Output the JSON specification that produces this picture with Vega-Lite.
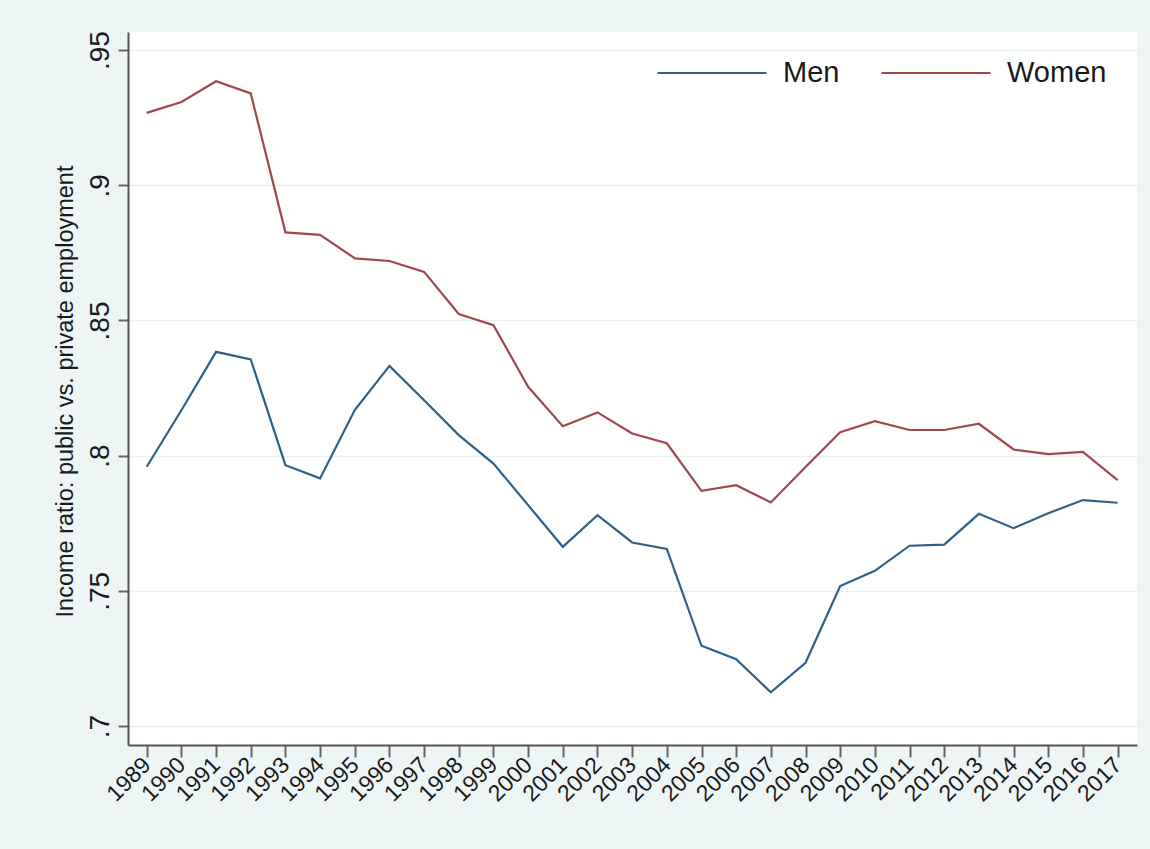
{
  "$schema": "https://vega.github.io/schema/vega-lite/v6.json",
  "width": 1009,
  "height": 713,
  "autosize": {"type": "none"},
  "padding": {"left": 128, "top": 32, "right": 13, "bottom": 104},
  "background": "#EEF5F5",
  "config": {
    "view": {"fill": "white", "stroke": null},
    "font": "Liberation Sans"
  },
  "data": {
    "values": [
      {"year": 1989, "sex": "Men", "ratio": 0.7959},
      {"year": 1990, "sex": "Men", "ratio": 0.8168},
      {"year": 1991, "sex": "Men", "ratio": 0.8384},
      {"year": 1992, "sex": "Men", "ratio": 0.8356},
      {"year": 1993, "sex": "Men", "ratio": 0.7965},
      {"year": 1994, "sex": "Men", "ratio": 0.7916},
      {"year": 1995, "sex": "Men", "ratio": 0.8169},
      {"year": 1996, "sex": "Men", "ratio": 0.8332},
      {"year": 1997, "sex": "Men", "ratio": 0.8205},
      {"year": 1998, "sex": "Men", "ratio": 0.8076},
      {"year": 1999, "sex": "Men", "ratio": 0.7971},
      {"year": 2000, "sex": "Men", "ratio": 0.7817},
      {"year": 2001, "sex": "Men", "ratio": 0.7663},
      {"year": 2002, "sex": "Men", "ratio": 0.7780},
      {"year": 2003, "sex": "Men", "ratio": 0.7679},
      {"year": 2004, "sex": "Men", "ratio": 0.7655},
      {"year": 2005, "sex": "Men", "ratio": 0.7297},
      {"year": 2006, "sex": "Men", "ratio": 0.7247},
      {"year": 2007, "sex": "Men", "ratio": 0.7125},
      {"year": 2008, "sex": "Men", "ratio": 0.7234},
      {"year": 2009, "sex": "Men", "ratio": 0.7518},
      {"year": 2010, "sex": "Men", "ratio": 0.7574},
      {"year": 2011, "sex": "Men", "ratio": 0.7667},
      {"year": 2012, "sex": "Men", "ratio": 0.7671},
      {"year": 2013, "sex": "Men", "ratio": 0.7785},
      {"year": 2014, "sex": "Men", "ratio": 0.7732},
      {"year": 2015, "sex": "Men", "ratio": 0.7787},
      {"year": 2016, "sex": "Men", "ratio": 0.7836},
      {"year": 2017, "sex": "Men", "ratio": 0.7826},
      {"year": 1989, "sex": "Women", "ratio": 0.9268},
      {"year": 1990, "sex": "Women", "ratio": 0.9308},
      {"year": 1991, "sex": "Women", "ratio": 0.9385},
      {"year": 1992, "sex": "Women", "ratio": 0.9340},
      {"year": 1993, "sex": "Women", "ratio": 0.8826},
      {"year": 1994, "sex": "Women", "ratio": 0.8817},
      {"year": 1995, "sex": "Women", "ratio": 0.8730},
      {"year": 1996, "sex": "Women", "ratio": 0.8720},
      {"year": 1997, "sex": "Women", "ratio": 0.8680},
      {"year": 1998, "sex": "Women", "ratio": 0.8524},
      {"year": 1999, "sex": "Women", "ratio": 0.8483},
      {"year": 2000, "sex": "Women", "ratio": 0.8255},
      {"year": 2001, "sex": "Women", "ratio": 0.8109},
      {"year": 2002, "sex": "Women", "ratio": 0.8160},
      {"year": 2003, "sex": "Women", "ratio": 0.8082},
      {"year": 2004, "sex": "Women", "ratio": 0.8046},
      {"year": 2005, "sex": "Women", "ratio": 0.7870},
      {"year": 2006, "sex": "Women", "ratio": 0.7891},
      {"year": 2007, "sex": "Women", "ratio": 0.7827},
      {"year": 2008, "sex": "Women", "ratio": 0.7958},
      {"year": 2009, "sex": "Women", "ratio": 0.8087},
      {"year": 2010, "sex": "Women", "ratio": 0.8128},
      {"year": 2011, "sex": "Women", "ratio": 0.8095},
      {"year": 2012, "sex": "Women", "ratio": 0.8095},
      {"year": 2013, "sex": "Women", "ratio": 0.8118},
      {"year": 2014, "sex": "Women", "ratio": 0.8023},
      {"year": 2015, "sex": "Women", "ratio": 0.8006},
      {"year": 2016, "sex": "Women", "ratio": 0.8014},
      {"year": 2017, "sex": "Women", "ratio": 0.7910}
    ]
  },
  "mark": {"type": "line", "strokeWidth": 2.2},
  "encoding": {
    "x": {
      "field": "year",
      "type": "quantitative",
      "scale": {"domain": [1988.46, 2017.56], "nice": false, "zero": false},
      "axis": {
        "title": null,
        "values": [1989,1990,1991,1992,1993,1994,1995,1996,1997,1998,1999,2000,2001,2002,2003,2004,2005,2006,2007,2008,2009,2010,2011,2012,2013,2014,2015,2016,2017],
        "format": "d",
        "grid": false,
        "labelAngle": -45,
        "labelAlign": "right",
        "labelBaseline": "middle",
        "labelFontSize": 23,
        "labelColor": "#1a1a1a",
        "labelPadding": 4,
        "labelOverlap": false,
        "labelFlush": false,
        "tickSize": 12,
        "tickWidth": 2,
        "tickColor": "#666666",
        "domainColor": "#555555",
        "domainWidth": 2
      }
    },
    "y": {
      "field": "ratio",
      "type": "quantitative",
      "scale": {"domain": [0.693, 0.9567], "nice": false, "zero": false},
      "axis": {
        "title": "Income ratio: public vs. private employment",
        "titleFontSize": 23.5,
        "titleFontWeight": "normal",
        "titleColor": "#1a1a1a",
        "titleAngle": -90,
        "titleX": -63,
        "titleY": 359,
        "titleAlign": "center",
        "titleBaseline": "middle",
        "values": [0.7, 0.75, 0.8, 0.85, 0.9, 0.95],
        "labelExpr": "substring(format(datum.value, '.2~f'), 1)",
        "labelAngle": -90,
        "labelAlign": "center",
        "labelBaseline": "alphabetic",
        "labelFontSize": 28,
        "labelColor": "#1a1a1a",
        "labelPadding": 10,
        "labelOverlap": false,
        "labelFlush": false,
        "tickSize": 10,
        "tickWidth": 2,
        "tickColor": "#666666",
        "domainColor": "#555555",
        "domainWidth": 2,
        "grid": true,
        "gridColor": "#E6F1F1",
        "gridWidth": 1.5
      }
    },
    "color": {
      "field": "sex",
      "type": "nominal",
      "scale": {"domain": ["Men", "Women"], "range": ["#30608A", "#A2474E"]},
      "legend": {
        "title": null,
        "orient": "none",
        "legendX": 528,
        "legendY": -15,
        "direction": "horizontal",
        "symbolType": "stroke",
        "symbolSize": 11881,
        "symbolStrokeWidth": 2.2,
        "labelFontSize": 29,
        "labelColor": "#1a1a1a",
        "labelOffset": 15,
        "columnPadding": 37,
        "padding": 0
      }
    }
  }
}
